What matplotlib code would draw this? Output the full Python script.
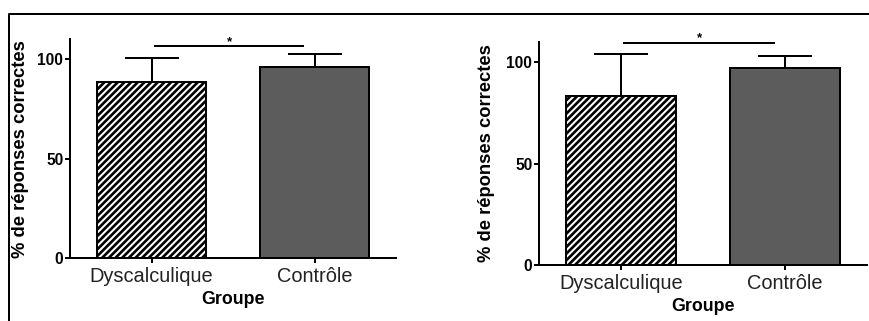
import matplotlib
matplotlib.use('Agg')
import matplotlib.pyplot as plt
from matplotlib.lines import Line2D

plt.rcParams['font.family'] = ['Liberation Sans', 'DejaVu Sans']
plt.rcParams['hatch.linewidth'] = 2.4

# Données : moyennes et écarts (vers le haut) pour les deux tâches
groupes = ['Dyscalculique', 'Contrôle']
moy_gauche = [88.8, 96.0]
err_gauche = [12.0, 6.7]
moy_droite = [83.5, 97.3]
err_droite = [20.6, 5.8]
sig_gauche = 106.5
sig_droite = 109.7

fig = plt.figure(figsize=(869 / 80, 321 / 80), dpi=80)
ax1 = fig.add_axes([70 / 869, 1 - 258 / 321, 326 / 869, (258 - 39.4) / 321])
ax2 = fig.add_axes([539 / 869, 1 - 265 / 321, 328 / 869, (265 - 42) / 321])


def panneau(ax, moy, err, sig, lab_x):
    x = [0, 1]
    ax.bar(x, moy, width=0.67, color=['white', '#5c5c5c'], edgecolor='black',
           linewidth=1.8, hatch=['////', None], zorder=3)
    ax.errorbar(x, moy, yerr=[[0, 0], err], fmt='none', ecolor='black',
                elinewidth=1.8, capsize=24, capthick=1.8, zorder=2)
    ax.plot([0.02, 0.93], [sig, sig], color='black', lw=1.8, clip_on=False)
    ax.text(0.48, sig + 2.2, '*', ha='center', va='center', fontsize=12,
            fontweight='bold', clip_on=False)
    ax.set_xlim(-0.5, 1.5)
    ax.set_ylim(0, 110)
    ax.set_yticks([0, 50, 100])
    ax.set_xticks(x)
    ax.set_xticklabels(groupes, fontsize=18, color='#222222')
    for lab in ax.get_yticklabels():
        lab.set_fontweight('bold')
    ax.tick_params(axis='y', labelsize=14, length=4.5, width=1.8, pad=1.5)
    ax.tick_params(axis='x', length=4.5, width=1.8, pad=3.5)
    for s in ['top', 'right']:
        ax.spines[s].set_visible(False)
    for s in ['left', 'bottom']:
        ax.spines[s].set_linewidth(1.8)
    ax.set_xlabel('Groupe', fontsize=16, fontweight='bold', labelpad=5)
    ax.set_ylabel('% de réponses correctes', fontsize=16.5, fontweight='bold')
    ax.yaxis.set_label_coords(lab_x, 0.5)


panneau(ax1, moy_gauche, err_gauche, sig_gauche, (29 - 70) / 326)
panneau(ax2, moy_droite, err_droite, sig_droite, (495 - 539) / 328)

# cadre autour de la figure (gauche et haut)
fig.add_artist(Line2D([8.5 / 869, 8.5 / 869, 1.0], [0.0, 1 - 13.5 / 321, 1 - 13.5 / 321],
                      color='black', lw=1.8, transform=fig.transFigure))

fig.savefig('out.png', dpi=80)
